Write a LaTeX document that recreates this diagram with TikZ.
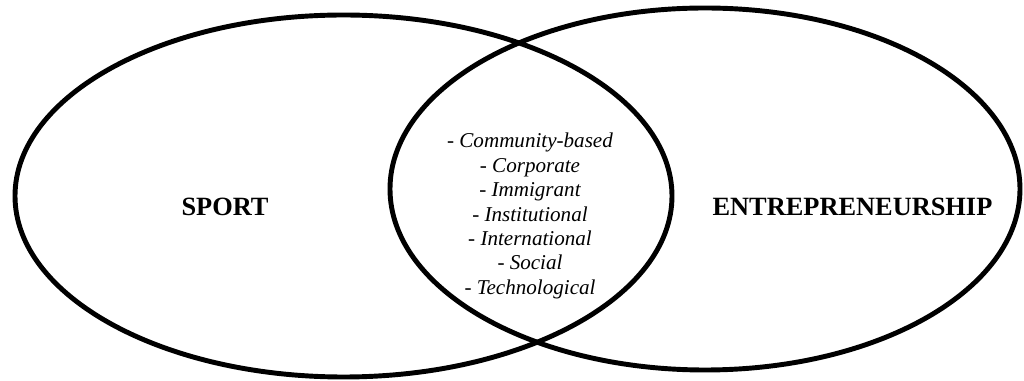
\documentclass[tikz,border=0pt]{standalone}
\usepackage{fontspec}
\setmainfont{Liberation Serif}
\usetikzlibrary{shapes.geometric}
\begin{document}
\begin{tikzpicture}[
  venn/.style={draw, ellipse, line width=2.8pt, inner sep=0pt},
  setname/.style={font=\bfseries\fontsize{15}{18}\selectfont},
  kinds/.style={align=center, font=\itshape\fontsize{12}{13.9}\selectfont}]
\useasboundingbox (0,0) rectangle (20.48,7.62);
\node[venn, minimum width=13.14cm, minimum height=7.24cm] (sportset) at (6.87,3.70) {};
\node[venn, minimum width=12.6cm, minimum height=7.24cm] (entreset) at (14.10,3.84) {};
\node[setname] (sport) at (4.50,3.48) {SPORT};
\node[setname] (entre) at (17.05,3.48) {ENTREPRENEURSHIP};
\node[kinds] (kinds) at (10.60,3.30) {- Community-based\\- Corporate\\- Immigrant\\- Institutional\\- International\\- Social\\- Technological};
\end{tikzpicture}
\end{document}
